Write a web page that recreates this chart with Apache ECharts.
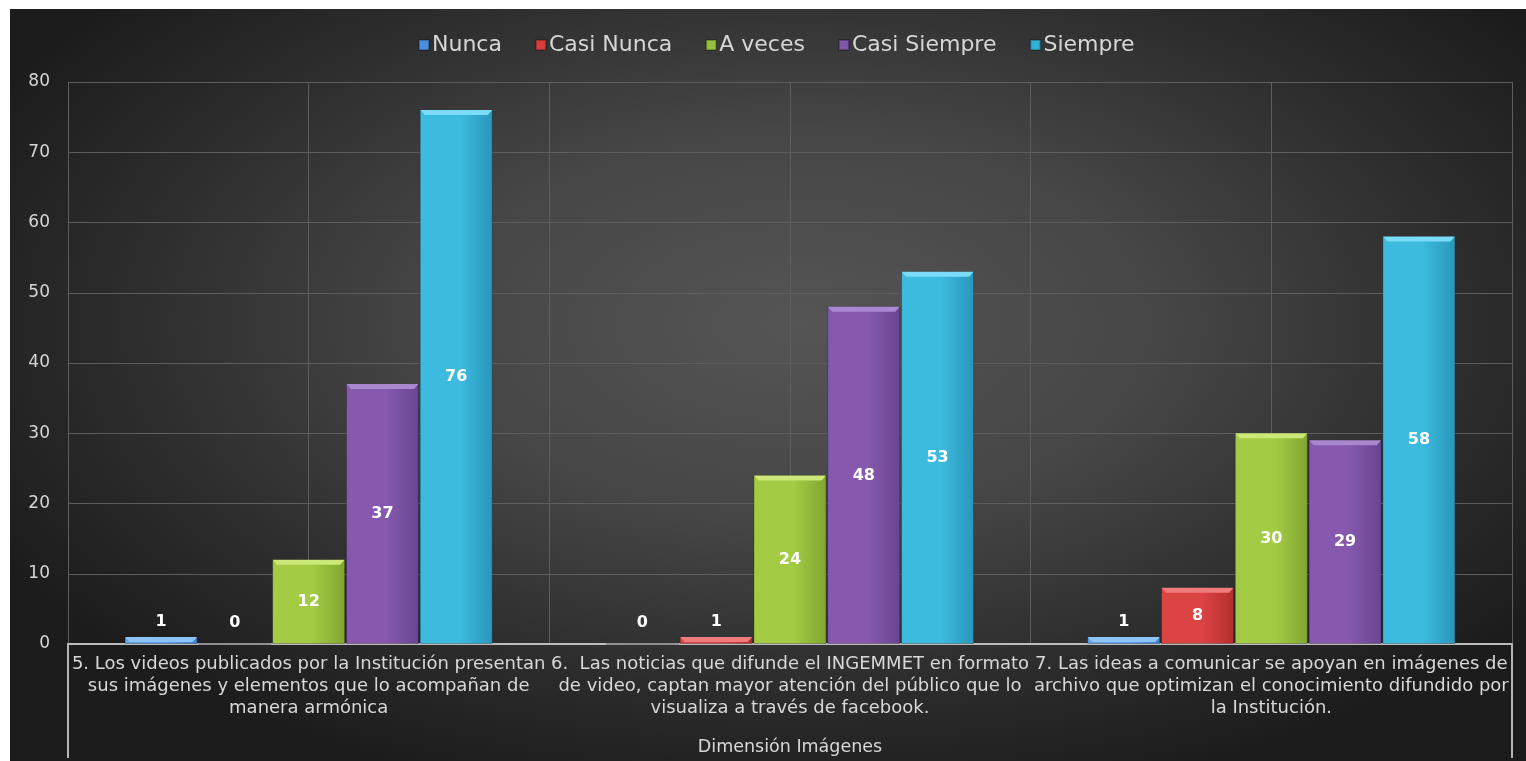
<!DOCTYPE html>
<html>
<head>
<meta charset="utf-8">
<script src="https://cdn.jsdelivr.net/npm/echarts@6/dist/echarts.min.js"></script>
<style>
  html, body { margin: 0; padding: 0; background: #ffffff; }
  #bg { position: absolute; left: 10px; top: 9px; width: 1516px; height: 752px;
        background: radial-gradient(ellipse 60% 65% at 52% 42%, #555555 0%, #464646 40%, #2c2c2c 75%, #1c1c1c 100%); }
  #chart { position: absolute; left: 0; top: 0; width: 1526px; height: 761px; }
</style>
</head>
<body>
<div id="bg"></div>
<div id="chart"></div>
<script>
const categories = [
  "5. Los videos publicados por la Institución presentan\nsus imágenes y elementos que lo acompañan de\nmanera armónica",
  "6.  Las noticias que difunde el INGEMMET en formato\nde video, captan mayor atención del público que lo\nvisualiza a través de facebook.",
  "7. Las ideas a comunicar se apoyan en imágenes de\narchivo que optimizan el conocimiento difundido por\nla Institución."
];
const groupName = "Dimensión Imágenes";
const seriesNames = ["Nunca", "Casi Nunca", "A veces", "Casi Siempre", "Siempre"];
const nunca = [1, 0, 1];
const casiNunca = [0, 1, 8];
const aVeces = [12, 24, 30];
const casiSiempre = [37, 48, 29];
const siempre = [76, 53, 58];
const yTicks = [0, 10, 20, 30, 40, 50, 60, 70, 80];

const values = [nunca, casiNunca, aVeces, casiSiempre, siempre];
const colors = [
  ["#5fa3ee", "#3f7fd0"],
  ["#dc4444", "#b52e2e"],
  ["#a3cc44", "#80a530"],
  ["#8659ae", "#684590"],
  ["#3cbbdf", "#2996b9"]
];
const bevelColors = ["#8ec4fb", "#f07b7b", "#cbe878", "#a888cf", "#7adcf6"];
const legendColors = ["#4a8fe0", "#d83c3c", "#95c03c", "#7f56a8", "#33b0d6"];

const CAT_GAP = 0.235, BAR_GAP = 0.01;

const chart = echarts.init(document.getElementById('chart'), null, {renderer: 'canvas'});

const series = values.map((arr, i) => ({
  name: seriesNames[i],
  type: 'bar',
  xAxisIndex: 0,
  barGap: (BAR_GAP * 100) + '%',
  barCategoryGap: (CAT_GAP * 100) + '%',
  data: arr.map(v => ({
    value: v,
    label: v <= 1 ? { position: 'insideBottom', distance: 14 } : {}
  })),
  itemStyle: {
    color: new echarts.graphic.LinearGradient(0, 0, 1, 0, [
      { offset: 0, color: colors[i][0] },
      { offset: 0.55, color: colors[i][0] },
      { offset: 1, color: colors[i][1] }
    ]),
    borderColor: 'rgba(0,0,0,0.25)',
    borderWidth: 1
  },
  label: {
    show: true,
    position: 'inside',
    color: '#ffffff',
    fontFamily: 'DejaVu Sans',
    fontWeight: 'bold',
    fontSize: 16
  },
  z: 2
}));

// bevel overlay on bar tops, positioned through the axes
const bevelData = [];
values.forEach((arr, s) => arr.forEach((v, c) => { if (v > 0) bevelData.push([c, v, s]); }));
series.push({
  type: 'custom',
  name: 'bevel',
  silent: true,
  xAxisIndex: 0,
  z: 3,
  data: bevelData,
  encode: { x: 0, y: 1 },
  renderItem: function (params, api) {
    const c = api.value(0), v = api.value(1), s = api.value(2);
    const band = api.size([1, 0])[0];
    const total = band * (1 - CAT_GAP);
    const n = values.length;
    const w = total / (n + (n - 1) * BAR_GAP);
    const cx = api.coord([c, 0])[0];
    const x0 = cx - total / 2 + s * w * (1 + BAR_GAP);
    const yTop = api.coord([c, v])[1];
    const yBase = api.coord([c, 0])[1];
    const h = Math.min(5, yBase - yTop);
    const d = Math.min(5, h);
    return {
      type: 'polygon',
      shape: { points: [[x0 + 0.5, yTop], [x0 + w - 0.5, yTop], [x0 + w - d, yTop + h], [x0 + d, yTop + h]] },
      style: { fill: bevelColors[s] }
    };
  }
});

chart.setOption({
  backgroundColor: 'transparent',
  animation: false,
  legend: {
    top: 29,
    left: 413,
    itemWidth: 10,
    itemHeight: 10,
    itemGap: 33,
    icon: 'rect',
    textStyle: { color: '#d6d6d6', fontFamily: 'DejaVu Sans', fontSize: 22, padding: [0, 0, 0, -2] },
    data: seriesNames.map((n, i) => ({ name: n, itemStyle: { color: legendColors[i] } }))
  },
  grid: { left: 68, right: 14, top: 82, bottom: 117, containLabel: false },
  xAxis: [
    {
      type: 'category',
      data: categories,
      position: 'bottom',
      axisLine: { show: true, lineStyle: { color: '#bdbdbd', width: 2 } },
      axisTick: { show: false },
      splitLine: { show: false },
      axisLabel: {
        interval: 0, color: '#d8d8d8', fontFamily: 'DejaVu Sans', fontSize: 18,
        lineHeight: 22, margin: 9, align: 'center'
      },
      name: groupName,
      nameLocation: 'middle',
      nameGap: 94,
      nameTextStyle: { color: '#d8d8d8', fontFamily: 'DejaVu Sans', fontSize: 17.5 }
    },
    {
      type: 'category',
      data: ['', '', '', '', '', ''],
      position: 'bottom',
      axisLine: { show: false },
      axisTick: { show: false },
      axisLabel: { show: false },
      splitLine: { show: true, interval: 0, lineStyle: { color: '#5d5d5d', width: 1 } }
    },
    {
      type: 'category',
      data: [''],
      position: 'bottom',
      axisLine: { show: false },
      axisTick: { show: true, length: 114, lineStyle: { color: '#b5b5b5', width: 2 } },
      axisLabel: { show: false },
      splitLine: { show: false }
    }
  ],
  yAxis: {
    type: 'value',
    min: yTicks[0],
    max: yTicks[yTicks.length - 1],
    interval: 10,
    axisLine: { show: false },
    axisTick: { show: false },
    axisLabel: { color: '#d6d6d6', fontFamily: 'DejaVu Sans', fontSize: 17, margin: 18 },
    splitLine: { lineStyle: { color: '#5d5d5d', width: 1 } }
  },
  series: series
});
</script>
</body>
</html>
